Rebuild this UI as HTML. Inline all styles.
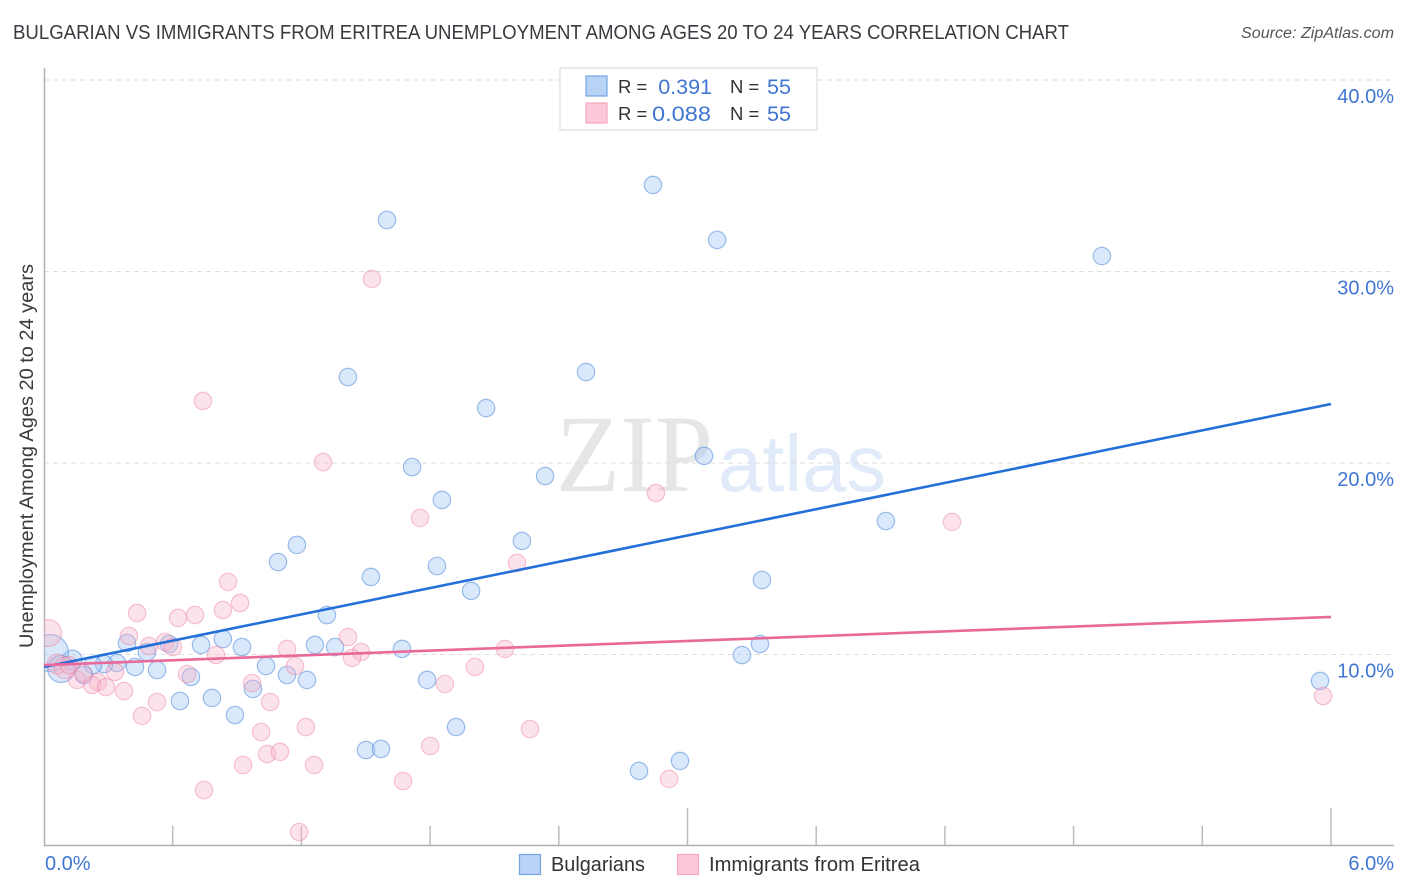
<!DOCTYPE html>
<html lang="en">
<head>
<meta charset="utf-8">
<title>Bulgarian vs Immigrants from Eritrea Unemployment Correlation Chart</title>
<style>
html,body{margin:0;padding:0;background:#fff;width:1406px;height:892px;overflow:hidden}
svg{display:block;font-family:"Liberation Sans",sans-serif}
</style>
</head>
<body>
<svg id="chart" xmlns="http://www.w3.org/2000/svg" width="1406" height="892" viewBox="0 0 1406 892">
  <defs><clipPath id="plot-clip"><rect x="44" y="68" width="1350" height="778"/></clipPath></defs>
  <rect width="1406" height="892" fill="#fff"/>
  <text x="13" y="39" font-size="20" fill="#3a3a40" textLength="1056" lengthAdjust="spacingAndGlyphs">BULGARIAN VS IMMIGRANTS FROM ERITREA UNEMPLOYMENT AMONG AGES 20 TO 24 YEARS CORRELATION CHART</text>
  <text x="1394" y="38" font-size="15.5" font-style="italic" fill="#555" text-anchor="end" textLength="153" lengthAdjust="spacingAndGlyphs">Source: ZipAtlas.com</text>
  <g>
    <text x="556" y="491" font-family="'Liberation Serif',serif" font-size="110" fill="#e6e6e6" textLength="157" lengthAdjust="spacingAndGlyphs">ZIP</text>
    <text x="718" y="491" font-size="80" fill="#e0eaf8" textLength="168" lengthAdjust="spacingAndGlyphs">atlas</text>
  </g>
  <g id="grid"></g>
  <g id="axes"></g>
  <g id="marks" clip-path="url(#plot-clip)"></g>
  <text x="0" y="0" transform="translate(33,456) rotate(-90)" font-size="19" fill="#3a3a3a" text-anchor="middle" textLength="384" lengthAdjust="spacingAndGlyphs">Unemployment Among Ages 20 to 24 years</text>
  <g>
    <rect x="560" y="68" width="257" height="62" fill="#fff" stroke="#dcdcdc" stroke-width="1.2"/>
    <rect x="586" y="76" width="21" height="20" fill="#b9d3f6" stroke="#76a5e2" stroke-width="1.2"/>
    <rect x="586" y="103" width="21" height="20" fill="#fdc8da" stroke="#f3a8c1" stroke-width="1.2"/>
    <g font-size="18.5" fill="#333">
      <text x="618" y="93">R =</text>
      <text x="730" y="93">N =</text>
      <text x="618" y="120">R =</text>
      <text x="730" y="120">N =</text>
    </g>
    <g font-size="21.5" fill="#4076d2">
      <text x="712" y="94" text-anchor="end">0.391</text>
      <text x="767" y="94">55</text>
      <text x="711" y="121" text-anchor="end" textLength="59" lengthAdjust="spacingAndGlyphs">0.088</text>
      <text x="767" y="121">55</text>
    </g>
  </g>
  <g>
    <rect x="519.5" y="854.5" width="21" height="20" fill="#b9d3f6" stroke="#76a5e2" stroke-width="1.2"/>
    <text x="551" y="871" font-size="20" fill="#333" textLength="94" lengthAdjust="spacingAndGlyphs">Bulgarians</text>
    <rect x="677.5" y="854.5" width="21" height="20" fill="#fdc8da" stroke="#f3a8c1" stroke-width="1.2"/>
    <text x="709" y="871" font-size="20" fill="#333" textLength="211" lengthAdjust="spacingAndGlyphs">Immigrants from Eritrea</text>
  </g>
</svg>
<script>
const yTickValues = [10, 20, 30, 40];
const yTickLabels = ["10.0%", "20.0%", "30.0%", "40.0%"];
const xTickValues = [0, 0.6, 1.2, 1.8, 2.4, 3.0, 3.6, 4.2, 4.8, 5.4, 6.0];
const xEndLabels = ["0.0%", "6.0%"];

const bulgarianX = [2.839,3.138,4.932,1.599,1.417,2.527,2.061,1.716,1.855,2.336,3.077,3.925,2.228,1.179,1.091,1.524,1.832,1.991,3.347,1.319,3.338,3.254,1.669,1.263,1.357,0.923,0.834,0.732,0.583,0.387,0.480,0.340,0.280,0.424,0.527,0.228,0.131,0.186,0.028,0.080,1.035,1.133,1.226,1.786,0.685,0.974,0.783,0.634,0.890,1.921,1.501,1.571,2.774,2.965,5.949];
const bulgarianY = [34.52,31.65,30.81,32.69,24.49,24.75,22.87,19.79,18.07,19.32,20.37,16.97,15.93,15.72,14.83,14.05,14.62,13.32,13.89,12.06,10.55,9.97,10.29,10.50,10.39,10.39,10.81,10.50,10.55,10.60,10.13,9.56,9.50,9.35,9.19,9.45,9.71,8.93,10.08,9.24,9.40,8.93,8.67,8.67,8.83,8.20,7.73,7.57,6.84,6.21,5.01,5.07,3.92,4.44,8.62];
const bulgarianWeight = [1,1,1,1,1,1,1,1,1,1,1,1,1,1,1,1,1,1,1,1,1,1,1,1,1,1,1,1,1,1,1,1,1,1,1,1,1.3,1,4.5,2.4,1,1,1,1,1,1,1,1,1,1,1,1,1,1,1];

const eritreaX = [1.529,0.741,1.301,2.853,4.233,1.753,2.205,0.858,0.914,0.434,0.625,0.704,0.834,0.396,0.489,0.564,0.601,1.417,1.133,1.478,1.436,2.149,0.802,1.170,2.009,0.667,0.970,1.869,0.331,0.252,0.154,0.224,0.289,0.373,0.527,0.457,1.054,1.221,2.266,1.012,0.928,1.040,1.100,1.259,1.800,1.674,2.914,0.746,1.189,5.963,0.019,0.061,0.098,0.182,0.117];
const eritreaY = [29.61,23.24,20.05,18.43,16.92,17.13,14.78,13.79,12.69,12.17,11.91,12.06,12.32,10.97,10.44,10.65,10.39,10.91,10.29,10.13,9.82,10.29,9.97,9.40,9.35,8.98,8.51,8.46,9.09,8.56,8.67,8.41,8.30,8.09,7.52,6.79,7.52,6.21,6.11,5.95,4.23,4.80,4.91,4.23,5.22,3.39,3.50,2.92,0.73,7.83,11.12,9.50,9.30,9.03,9.45];
const eritreaWeight = [1,1,1,1,1,1,1,1,1,1,1,1,1,1,1,1,1,1,1,1,1,1,1,1,1,1,1,1,1,1,1,1,1,1,1,1,1,1,1,1,1,1,1,1,1,1,1,1,1,1,2.4,1.3,1.5,1,1];

const bulgarianTrend = [9.35, 23.08];
const eritreaTrend = [9.45, 11.96];
const trendDomain = [0, 6];

const NS = "http://www.w3.org/2000/svg";
const xScale = v => 44 + v * 214.5;
const yScale = v => 846 - v * 19.15;
const rScale = w => 8.7 * Math.sqrt(w);

function make(parent, tag, attrs) {
  const el = document.createElementNS(NS, tag);
  for (const k in attrs) el.setAttribute(k, attrs[k]);
  parent.appendChild(el);
  return el;
}

const grid = document.getElementById("grid");
const axes = document.getElementById("axes");
const marks = document.getElementById("marks");

yTickValues.forEach((v, i) => {
  const line = make(grid, "line", {x1: 44, x2: 1394, y1: yScale(v), y2: yScale(v), stroke: "#dedede", "stroke-width": 1, "stroke-dasharray": "5 4"});
  
  
  const label = make(axes, "text", {x: 1394, y: yScale(v) + 23, "font-size": 20, fill: "#4076d2", "text-anchor": "end"});
  label.textContent = yTickLabels[i];
  
  
});

const yAxis = make(axes, "line", {x1: 44.5, x2: 44.5, y1: 68, y2: 846, stroke: "#b0b0b0", "stroke-width": 1.5});


const xAxis = make(axes, "line", {x1: 44, x2: 1394, y1: 845.5, y2: 845.5, stroke: "#b0b0b0", "stroke-width": 1.5});



xTickValues.forEach((v, i) => {
  if (i === 0) return;
  const tall = i % 5 === 0;
  const tick = make(axes, "line", {x1: xScale(v), x2: xScale(v), y1: tall ? 808 : 826, y2: 845, stroke: "#bcbcbc", "stroke-width": 1.5});
  
  
});

const x0Label = make(axes, "text", {x: 45, y: 870, "font-size": 20, fill: "#4076d2"});
x0Label.textContent = xEndLabels[0];


const x1Label = make(axes, "text", {x: 1394, y: 870, "font-size": 20, fill: "#4076d2", "text-anchor": "end"});
x1Label.textContent = xEndLabels[1];



function drawPoints(xs, ys, weights, fill, stroke, name) {
  xs.forEach((x, i) => {
    const c = make(marks, "circle", {cx: xScale(x), cy: yScale(ys[i]), r: rScale(weights[i]), fill: fill, stroke: stroke, "stroke-width": 1.2});
    
    
  });
}
drawPoints(bulgarianX, bulgarianY, bulgarianWeight, "rgba(160,198,244,0.4)", "rgba(70,130,215,0.5)", "bulgarian-point");
drawPoints(eritreaX, eritreaY, eritreaWeight, "rgba(248,180,202,0.38)", "rgba(235,130,165,0.45)", "eritrea-point");

const blueLine = make(marks, "line", {x1: xScale(trendDomain[0]), x2: xScale(trendDomain[1]), y1: yScale(bulgarianTrend[0]), y2: yScale(bulgarianTrend[1]), stroke: "#2470d8", "stroke-width": 2.6});


const pinkLine = make(marks, "line", {x1: xScale(trendDomain[0]), x2: xScale(trendDomain[1]), y1: yScale(eritreaTrend[0]), y2: yScale(eritreaTrend[1]), stroke: "#e8699a", "stroke-width": 2.6});


</script>
</body>
</html>
